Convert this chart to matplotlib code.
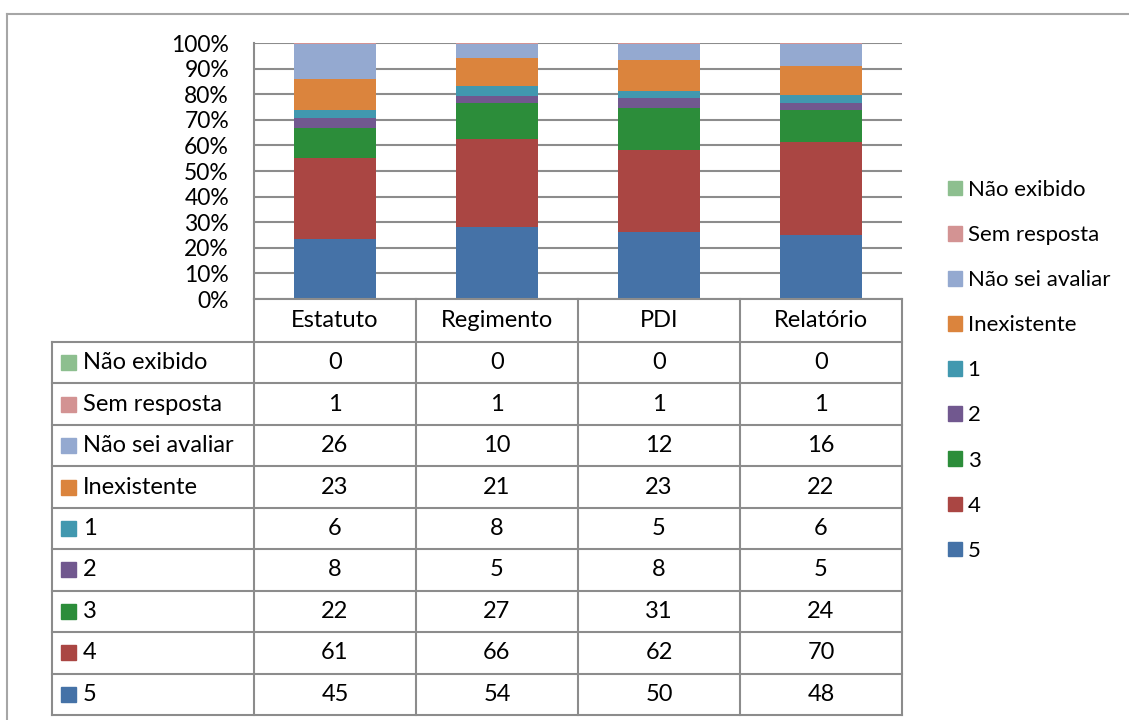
import matplotlib.pyplot as plt
import matplotlib.transforms as mtransforms
from matplotlib.lines import Line2D
from matplotlib.patches import Patch, Rectangle
import numpy as np

plt.rcParams['font.family'] = ['Lato', 'DejaVu Sans']

# Data
categories = ['Estatuto', 'Regimento', 'PDI', 'Relatório']
series_names = ['Não exibido', 'Sem resposta', 'Não sei avaliar', 'Inexistente',
                '1', '2', '3', '4', '5']
values = {
    'Não exibido':     [0, 0, 0, 0],
    'Sem resposta':    [1, 1, 1, 1],
    'Não sei avaliar': [26, 10, 12, 16],
    'Inexistente':     [23, 21, 23, 22],
    '1':               [6, 8, 5, 6],
    '2':               [8, 5, 8, 5],
    '3':               [22, 27, 31, 24],
    '4':               [61, 66, 62, 70],
    '5':               [45, 54, 50, 48],
}
colors = {
    'Não exibido': '#8DBF8F',
    'Sem resposta': '#D39393',
    'Não sei avaliar': '#94A9D0',
    'Inexistente': '#DB843D',
    '1': '#4198AF',
    '2': '#71588F',
    '3': '#2C8D3A',
    '4': '#AA4643',
    '5': '#4572A7',
}

W, H = 1129, 720
FS = 17
GRID = '#8C8C8C'

fig = plt.figure(figsize=(W / 100, H / 100), dpi=100)


def fx(px):
    return px / W


def fy(py):
    return 1 - py / H


ax = fig.add_axes([fx(254), fy(299), fx(902) - fx(254), fy(43) - fy(299)])

x = np.arange(len(categories))
totals = np.sum([values[s] for s in series_names], axis=0)
bottom = np.zeros(len(categories))
for s in series_names[::-1]:
    pct = np.array(values[s]) / totals * 100
    ax.bar(x, pct, bottom=bottom, width=0.51, color=colors[s], zorder=3)
    bottom += pct

ax.set_xlim(-0.5, len(categories) - 0.5)
ax.set_ylim(0, 100)
ax.set_yticks(np.arange(0, 101, 10))
ax.set_yticklabels([f'{v}%' for v in range(0, 101, 10)], fontsize=16.5)
ax.tick_params(axis='y', length=0, pad=18)
ax.set_xticks([])
ax.yaxis.grid(True, color=GRID, linewidth=1.5, zorder=0)
for side in ['top', 'right', 'bottom']:
    ax.spines[side].set_visible(False)
ax.spines['left'].set_color(GRID)
ax.spines['left'].set_linewidth(1.5)

# Data table below the plot
tr = mtransforms.blended_transform_factory(ax.transData, fig.transFigure)
hdr_top, hdr_bot, tab_bot = 299, 342, 715
row_h = (tab_bot - hdr_bot) / len(series_names)
xl, xr = -0.5, len(categories) - 0.5
lw = 1.5

# header row
fig.add_artist(Line2D([xl, xr], [fy(hdr_top), fy(hdr_top)], transform=tr, color=GRID, lw=lw))
for i in range(len(categories) + 1):
    xb = i - 0.5
    fig.add_artist(Line2D([xb, xb], [fy(hdr_top), fy(tab_bot)], transform=tr, color=GRID, lw=lw))
for i, c in enumerate(categories):
    fig.text(i, fy((hdr_top + hdr_bot) / 2), c, transform=tr, ha='center', va='center', fontsize=FS)

# data rows
fig.add_artist(Line2D([fx(52), fx(52)], [fy(hdr_bot), fy(tab_bot)], color=GRID, lw=lw))
for r in range(len(series_names) + 1):
    yy = fy(hdr_bot + r * row_h)
    fig.add_artist(Line2D([fx(52), fx(902)], [yy, yy], color=GRID, lw=lw))

for r, s in enumerate(series_names):
    yc = hdr_bot + (r + 0.5) * row_h
    fig.add_artist(Rectangle((fx(61), fy(yc + 7.5)), fx(15), 15 / H,
                             color=colors[s], transform=fig.transFigure))
    fig.text(fx(83), fy(yc), s, ha='left', va='center', fontsize=FS)
    for i, v in enumerate(values[s]):
        fig.text(i, fy(yc), str(v), transform=tr, ha='center', va='center', fontsize=FS)

# legend on the right
handles = [Patch(color=colors[s], label=s) for s in series_names]
fig.legend(handles=handles, loc='upper left', bbox_to_anchor=(fx(939), fy(171)),
           frameon=False, fontsize=16, handlelength=0.64, handleheight=0.64,
           handletextpad=0.25, labelspacing=1.13, borderaxespad=0)

# outer chart border
fig.add_artist(Line2D([fx(7), fx(7)], [fy(14), 0], color='#A6A6A6', lw=1.5))
fig.add_artist(Line2D([fx(7), 1], [fy(14), fy(14)], color='#A6A6A6', lw=1.5))

fig.savefig('out.png', dpi=100)
